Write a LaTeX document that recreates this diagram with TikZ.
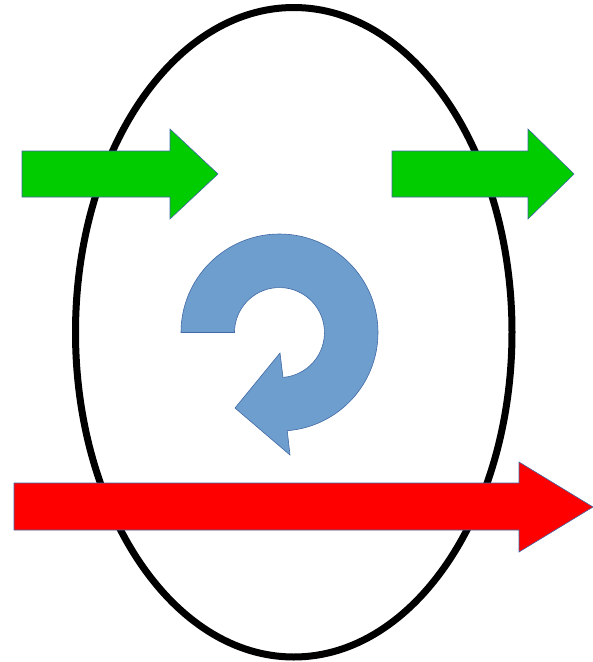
\documentclass[tikz,border=0pt]{standalone}
\definecolor{arrgreen}{RGB}{0,204,0}
\definecolor{arrblue}{RGB}{110,158,206}
\definecolor{edgeblue}{RGB}{65,105,165}
\tikzset{
  ring/.style={draw=black, line width=7pt},
  fatarrow/.style={draw=edgeblue, line width=0.6pt, line join=miter},
}
\begin{document}
\begin{tikzpicture}[x=1pt,y=-1pt]
\useasboundingbox (0,0) rectangle (593,662);
% ellipse
\coordinate (ringc) at (293.75,332.25);
\draw[ring] (ringc) ellipse [x radius=218.25, y radius=324.75];
% green arrow 1
\filldraw[fatarrow, fill=arrgreen] (22,151) -- (170,151) -- (170,129) -- (218,174) -- (170,219) -- (170,197) -- (22,197) -- cycle;
% green arrow 2
\filldraw[fatarrow, fill=arrgreen] (392,151) -- (528,151) -- (528,129) -- (574,174) -- (528,219) -- (528,197) -- (392,197) -- cycle;
% red arrow
\filldraw[fatarrow, fill=red] (14,483) -- (519,483) -- (519,462) -- (593,507) -- (519,552) -- (519,530) -- (14,530) -- cycle;
% blue circular arrow
\coordinate (bc) at (279.5,332.5);
\filldraw[fatarrow, fill=arrblue]
  (181,332.5) arc[start angle=180, end angle=445.5, radius=98.5]
  -- (290,455) -- (235,408) -- (280,353) -- (283,377.4)
  arc[start angle=445.5, end angle=180, radius=45]
  -- cycle;
\end{tikzpicture}
\end{document}
